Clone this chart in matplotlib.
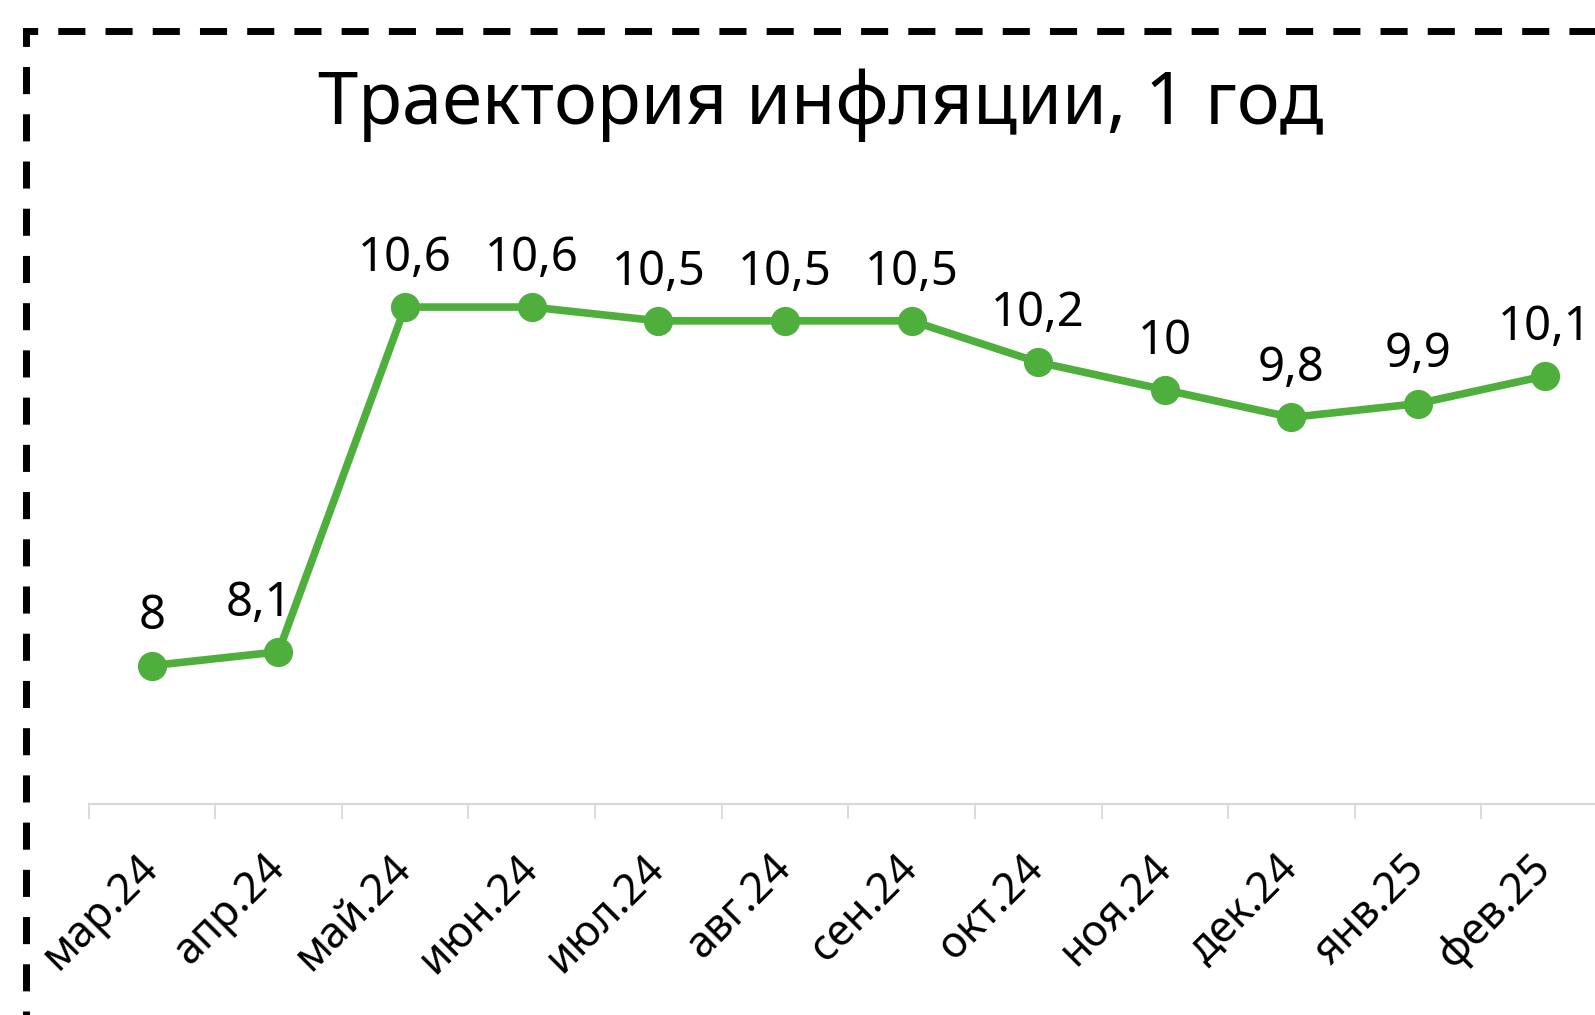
import matplotlib.pyplot as plt
from matplotlib.patches import Rectangle

months = ['мар.24', 'апр.24', 'май.24', 'июн.24', 'июл.24', 'авг.24',
          'сен.24', 'окт.24', 'ноя.24', 'дек.24', 'янв.25', 'фев.25']
inflation = [8.0, 8.1, 10.6, 10.6, 10.5, 10.5, 10.5, 10.2, 10.0, 9.8, 9.9, 10.1]
title = 'Траектория инфляции, 1 год'

plt.rcParams['font.family'] = ['Noto Sans', 'DejaVu Sans']

green = '#4faf3c'
W, H = 1595, 1015

fig = plt.figure(figsize=(W / 100, H / 100), dpi=100)
ax = fig.add_axes([88.5 / W, 1 - 803.5 / H, 1519.5 / W, (803.5 - 114) / H])

x = list(range(len(months)))
ax.plot(x, inflation, color=green, lw=5.5, marker='o', markersize=20,
        solid_capstyle='round', zorder=3)

# excel puts the second label a bit to the left
dx = [0] * len(months)
dx[1] = -14
for i, v in enumerate(inflation):
    txt = ('%g' % v).replace('.', ',')
    ax.annotate(txt, (i, v), xytext=(dx[i], 26), textcoords='offset points',
                ha='center', va='baseline', fontsize=34)

ax.set_xlim(-0.5, len(months) - 0.5)
ax.set_ylim(7, 12)

ax.set_xticks(x)
ax.set_xticklabels(months, rotation=45, ha='right', va='center',
                   rotation_mode='anchor', fontsize=31)
ax.tick_params(axis='x', which='major', length=0, pad=42)
ax.set_xticks([i - 0.5 for i in range(len(months) + 1)], minor=True)
ax.tick_params(axis='x', which='minor', length=11, width=1.3, color='#d9d9d9')
ax.set_yticks([])

for s in ['top', 'right', 'left']:
    ax.spines[s].set_visible(False)
ax.spines['bottom'].set_color('#d9d9d9')
ax.spines['bottom'].set_linewidth(1.6)

fig.text(821 / W, 1 - 124 / H, title, ha='center', va='baseline', fontsize=52)

# dashed frame, runs off the image on the right and bottom
frame = Rectangle((26 / W, -0.1), 1.2, 1.1 - 31 / H, transform=fig.transFigure,
                  fill=False, ec='black', lw=5, ls=(0, (3.9, 2.9)))
fig.patches.append(frame)

fig.savefig('out.png', dpi=100)
